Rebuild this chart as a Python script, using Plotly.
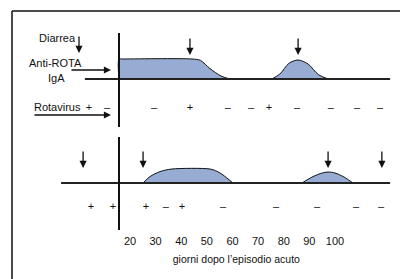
import plotly.graph_objects as go

# ---------------- data ----------------
onset_day = 15.7                      # day of the acute episode (vertical line)

# Case 1 (top panel)
iga1_days = [onset_day, onset_day, 17, 44.2, 47.5, 51.2, 55.5, 59]
iga1_lvls = [0, 1.0, 1.0, 1.0, 0.93, 0.52, 0.15, 0]
iga1b_days = [75.4, 78.5, 82, 85.6, 89.5, 93.5, 97.3]
iga1b_lvls = [0, 0.25, 0.78, 0.95, 0.75, 0.22, 0]
diarrea1_days = [43.4, 85.6]
rota1_days = [4, 11, 29.4, 43.4, 58.2, 67.2, 74.2, 85.2, 98.4, 108.6, 117.6]
rota1_sign = ["+", "–", "–", "+", "–", "–", "+", "–", "–", "–", "–"]
base1 = [2.4, 121.5]

# Case 2 (bottom panel)
iga2_days = [25.1, 27.8, 31.7, 36.4, 51.2, 54, 56.3, 60.2]
iga2_lvls = [0, 0.32, 0.57, 0.7, 0.7, 0.58, 0.4, 0]
iga2b_days = [87.1, 91.4, 95, 97.3, 100, 103.5, 107]
iga2b_lvls = [0, 0.32, 0.5, 0.55, 0.5, 0.3, 0]
diarrea2_days = [1.7, 25.1, 97.3, 118.3]
rota2_days = [4.8, 13.4, 26.2, 34, 40.3, 56.3, 77, 93, 108.2, 118]
rota2_sign = ["+", "+", "+", "–", "+", "–", "–", "–", "–", "–"]
base2 = [-6.9, 121.5]

tick_days = [20, 30, 40, 50, 60, 70, 80, 90, 100]
tick_labels = [str(d) for d in tick_days]
x_title = "giorni dopo l’episodio acuto"

# ---------------- styles ----------------
FONT = "Liberation Sans, Arial, sans-serif"
FILL = "rgb(151,172,210)"
INK = "#111111"

fig = go.Figure()

def hump(days, lvls, yaxis):
    fig.add_trace(go.Scatter(x=days, y=lvls, mode="lines", yaxis=yaxis,
                             line=dict(color=INK, width=1, shape="spline", smoothing=0.8),
                             fill="tozeroy", fillcolor=FILL, hoverinfo="skip",
                             showlegend=False))

hump(iga1_days, iga1_lvls, "y")
hump(iga1b_days, iga1b_lvls, "y")
hump(iga2_days, iga2_lvls, "y2")
hump(iga2b_days, iga2b_lvls, "y2")

# baselines and onset lines
for base, yref in [(base1, "y"), (base2, "y2")]:
    fig.add_shape(type="line", xref="x", yref=yref, x0=base[0], x1=base[1], y0=0, y1=0,
                  line=dict(color="#222", width=2))
fig.add_shape(type="line", xref="x", yref="y", x0=onset_day, x1=onset_day, y0=2.3, y1=-2.4,
              line=dict(color=INK, width=2))
fig.add_shape(type="line", xref="x", yref="y2", x0=onset_day, x1=onset_day, y0=2.3, y1=-2.35,
              line=dict(color=INK, width=2))

# rotavirus signs
fig.add_trace(go.Scatter(x=rota1_days, y=[-1.45] * len(rota1_days), yaxis="y", mode="text",
                         text=rota1_sign, textfont=dict(family=FONT, size=11, color=INK),
                         hoverinfo="skip", showlegend=False))
fig.add_trace(go.Scatter(x=rota2_days, y=[-1.2] * len(rota2_days), yaxis="y2", mode="text",
                         text=rota2_sign, textfont=dict(family=FONT, size=11, color=INK),
                         hoverinfo="skip", showlegend=False))

# tick labels + axis title
fig.add_trace(go.Scatter(x=tick_days, y=[-2.95] * len(tick_days), yaxis="y2", mode="text",
                         text=tick_labels, textfont=dict(family=FONT, size=11, color=INK),
                         hoverinfo="skip", showlegend=False))
fig.add_trace(go.Scatter(x=[sum(tick_days) / len(tick_days) + 1.5], y=[-3.85], yaxis="y2", mode="text",
                         text=[x_title], textfont=dict(family=FONT, size=10.5, color=INK),
                         hoverinfo="skip", showlegend=False))

annotations = []
# diarrhea arrows
for d in diarrea1_days:
    annotations.append(dict(x=d, y=1.2, xref="x", yref="y", ax=d, ay=2.1, axref="x", ayref="y",
                            showarrow=True, arrowhead=2, arrowsize=1.1, arrowwidth=1.3,
                            arrowcolor=INK, text=""))
for d in diarrea2_days:
    annotations.append(dict(x=d, y=0.75, xref="x", yref="y2", ax=d, ay=1.65, axref="x", ayref="y2",
                            showarrow=True, arrowhead=2, arrowsize=1.1, arrowwidth=1.3,
                            arrowcolor=INK, text=""))

def P(px, py):
    return px / 400, 1 - py / 279

def label(text, px, py):
    x, y = P(px, py)
    annotations.append(dict(x=x, y=y, xref="paper", yref="paper", text=text, showarrow=False,
                            xanchor="center", yanchor="middle",
                            font=dict(family=FONT, size=11, color=INK)))

def arrow(px, py, ax, ay):
    x, y = P(px, py)
    annotations.append(dict(x=x, y=y, xref="paper", yref="paper", ax=ax, ay=ay, showarrow=True,
                            arrowhead=2, arrowsize=1.1, arrowwidth=1.3, arrowcolor=INK, text=""))

# legend labels with their arrows
label("Diarrea", 58, 38)
arrow(79, 53, 0, -18)
label("Anti-ROTA", 55, 63)
label("IgA", 57, 78)
arrow(111, 70, -41, 0)
label("Rotavirus", 58, 107)
arrow(111, 115, -78, 0)

# frame
fig.add_shape(type="line", xref="paper", yref="paper", x0=12 / 400, x1=1.01, y0=1 - 11 / 279, y1=1 - 11 / 279,
              line=dict(color=INK, width=1.5))
fig.add_shape(type="line", xref="paper", yref="paper", x0=12 / 400, x1=12 / 400, y0=1 - 11 / 279, y1=-0.01,
              line=dict(color=INK, width=1.5))

PX_PER_DAY = 2.5625
fig.update_layout(
    width=400, height=279,
    margin=dict(l=0, r=0, t=0, b=0),
    paper_bgcolor="white", plot_bgcolor="white",
    xaxis=dict(range=[20 - 130 / PX_PER_DAY, 20 + 270 / PX_PER_DAY], visible=False, fixedrange=True),
    yaxis=dict(range=[-10, 3.95], visible=False, fixedrange=True),
    yaxis2=dict(range=[-4.8, 9.15], visible=False, overlaying="y", fixedrange=True),
    annotations=annotations,
    showlegend=False,
)

fig.write_html("out.html", config={"displayModeBar": False},
               post_script="document.body.style.margin='0';document.body.style.overflow='hidden';")
